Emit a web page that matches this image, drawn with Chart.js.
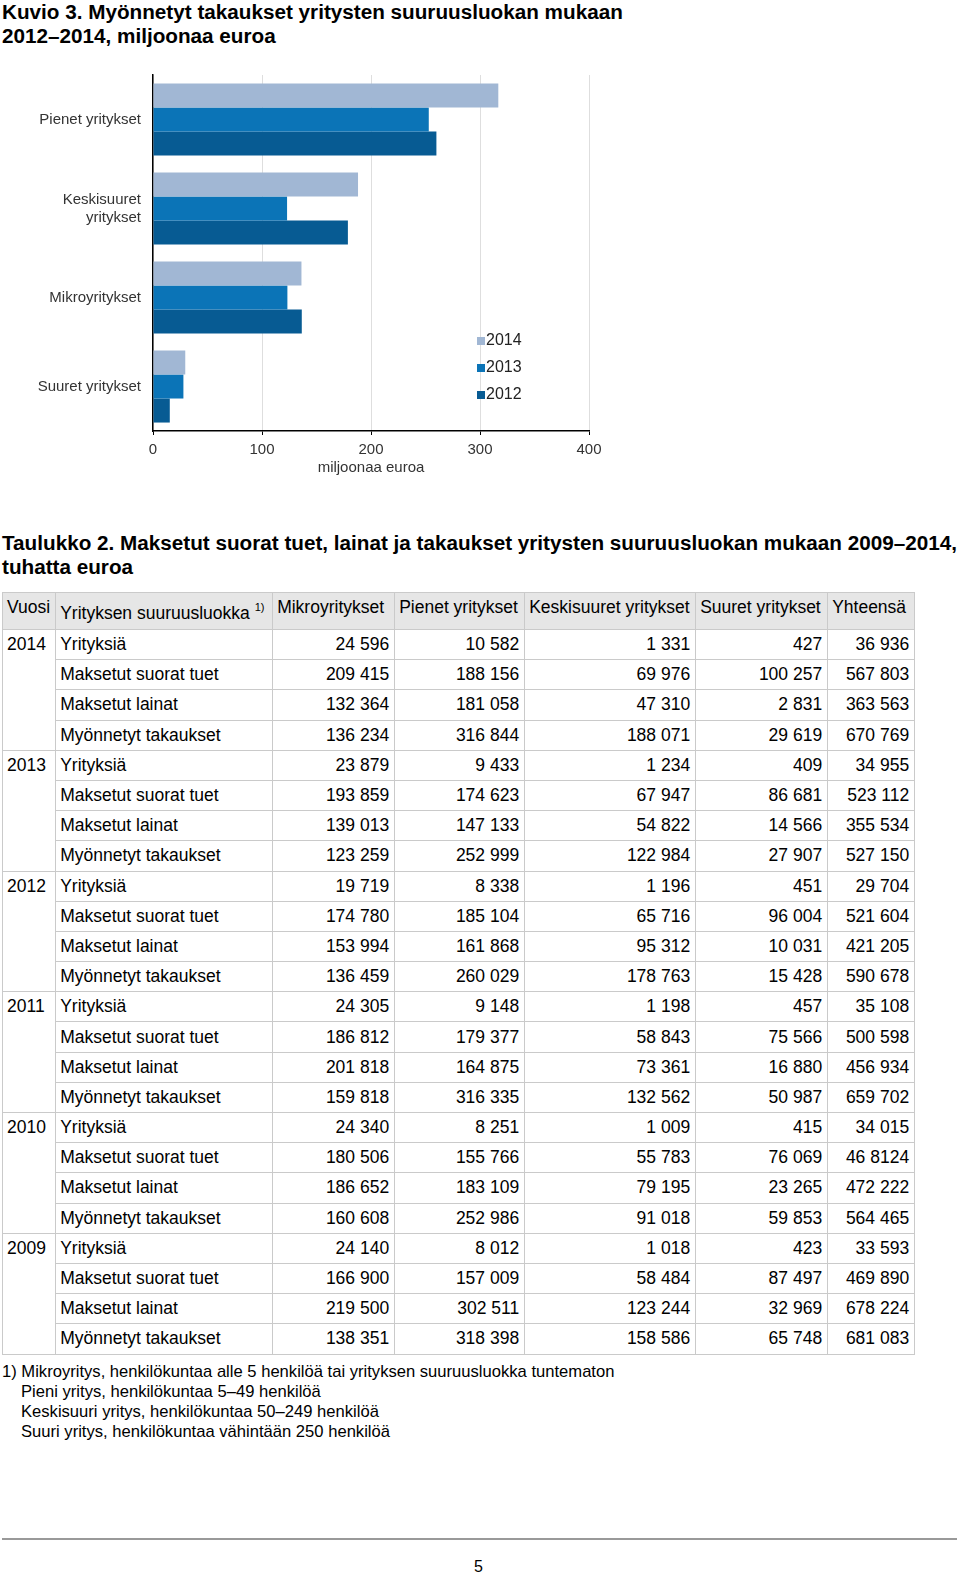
<!DOCTYPE html>
<html>
<head>
<meta charset="utf-8">
<script src="https://cdn.jsdelivr.net/npm/chart.js@4.4.0/dist/chart.umd.min.js"></script>
<style>
  html, body { margin: 0; padding: 0; background: #fff; }
  body { width: 960px; height: 1572px; position: relative; overflow: hidden;
         font-family: "Liberation Sans", Arial, sans-serif; color: #000; }
  .title { position: absolute; left: 2px; font-family: "Liberation Sans Narrow", "Arial Narrow", "Liberation Sans", sans-serif;
           font-weight: bold; font-size: 20.7px; line-height: 24px; white-space: nowrap; }
  #chartBox { position: absolute; left: 0; top: 0; width: 640px; height: 500px; }
  table { position: absolute; left: 2px; top: 592px; border-collapse: collapse; font-size: 17.5px; }
  td, th { border: 1px solid #cacaca; padding: 0 5px 0 4px; height: 29.2px; white-space: nowrap; }
  th { background: #e6e6e6; font-weight: normal; text-align: left; vertical-align: top; height: 32px;
       padding-top: 4px; line-height: 20px; }
  th span.low { position: relative; top: 6px; }
  td.num { text-align: right; }
  td.year { vertical-align: top; padding-top: 4px; }
  sup { font-size: 11px; line-height: 0; vertical-align: 8px; }
  .note { position: absolute; left: 2px; top: 1362px; font-size: 16.6px; line-height: 20px; }
  .note div.ind { padding-left: 19px; }
  .rule { position: absolute; left: 2px; top: 1538px; width: 955px; height: 2px; background: #999; }
  .page { position: absolute; left: 474px; top: 1558px; font-size: 16px; }
</style>
</head>
<body>
<div class="title" style="top:0">Kuvio 3. Myönnetyt takaukset yritysten suuruusluokan mukaan<br>2012–2014, miljoonaa euroa</div>
<div id="chartBox"><canvas id="myChart" width="640" height="500"></canvas></div>
<div class="title" style="top:531px">Taulukko 2. Maksetut suorat tuet, lainat ja takaukset yritysten suuruusluokan mukaan 2009–2014,<br>tuhatta euroa</div>
<table id="tbl"></table>
<div class="note">
  <div>1) Mikroyritys, henkilökuntaa alle 5 henkilöä tai yrityksen suuruusluokka tuntematon</div>
  <div class="ind">Pieni yritys, henkilökuntaa 5–49 henkilöä</div>
  <div class="ind">Keskisuuri yritys, henkilökuntaa 50–249 henkilöä</div>
  <div class="ind">Suuri yritys, henkilökuntaa vähintään 250 henkilöä</div>
</div>
<div class="rule"></div>
<div class="page">5</div>
<script>
// chart data, million euro
const categories = ['Pienet yritykset', ['Keskisuuret', 'yritykset'], 'Mikroyritykset', 'Suuret yritykset'];
const seriesNames = ['2014', '2013', '2012'];
const takaukset2014 = [316.8, 188.1, 136.2, 29.6];
const takaukset2013 = [253.0, 123.0, 123.3, 27.9];
const takaukset2012 = [260.0, 178.8, 136.5, 15.4];
const xTicks = [0, 100, 200, 300, 400];

// table data, thousand euro
const years = ['2014', '2013', '2012', '2011', '2010', '2009'];
const measures = ['Yrityksiä', 'Maksetut suorat tuet', 'Maksetut lainat', 'Myönnetyt takaukset'];
const headers = ['Vuosi', 'Yrityksen suuruusluokka', 'Mikroyritykset', 'Pienet yritykset', 'Keskisuuret yritykset', 'Suuret yritykset', 'Yhteensä'];
const rows2014 = [['24 596','10 582','1 331','427','36 936'], ['209 415','188 156','69 976','100 257','567 803'], ['132 364','181 058','47 310','2 831','363 563'], ['136 234','316 844','188 071','29 619','670 769']];
const rows2013 = [['23 879','9 433','1 234','409','34 955'], ['193 859','174 623','67 947','86 681','523 112'], ['139 013','147 133','54 822','14 566','355 534'], ['123 259','252 999','122 984','27 907','527 150']];
const rows2012 = [['19 719','8 338','1 196','451','29 704'], ['174 780','185 104','65 716','96 004','521 604'], ['153 994','161 868','95 312','10 031','421 205'], ['136 459','260 029','178 763','15 428','590 678']];
const rows2011 = [['24 305','9 148','1 198','457','35 108'], ['186 812','179 377','58 843','75 566','500 598'], ['201 818','164 875','73 361','16 880','456 934'], ['159 818','316 335','132 562','50 987','659 702']];
const rows2010 = [['24 340','8 251','1 009','415','34 015'], ['180 506','155 766','55 783','76 069','46 8124'], ['186 652','183 109','79 195','23 265','472 222'], ['160 608','252 986','91 018','59 853','564 465']];
const rows2009 = [['24 140','8 012','1 018','423','33 593'], ['166 900','157 009','58 484','87 497','469 890'], ['219 500','302 511','123 244','32 969','678 224'], ['138 351','318 398','158 586','65 748','681 083']];
const yearRows = [rows2014, rows2013, rows2012, rows2011, rows2010, rows2009];

const colWidths = [52, 217, 122, 130, 171, 132, 87];

// build table
const tbl = document.getElementById('tbl');
let html = '<tr>';
headers.forEach((h, i) => {
  const txt = i === 1 ? '<span class="low">' + h + ' <sup>1)</sup></span>' : h;
  html += '<th style="width:' + (colWidths[i] - 10) + 'px">' + txt + '</th>';
});
html += '</tr>';
years.forEach((y, yi) => {
  measures.forEach((m, mi) => {
    html += '<tr>';
    if (mi === 0) html += '<td class="year" rowspan="4">' + y + '</td>';
    html += '<td>' + m + '</td>';
    yearRows[yi][mi].forEach(v => { html += '<td class="num">' + v + '</td>'; });
    html += '</tr>';
  });
});
tbl.innerHTML = html;

// legend drawn inside plot area
const innerLegend = {
  id: 'innerLegend',
  afterDraw(chart) {
    const ctx = chart.ctx;
    ctx.save();
    ctx.font = '16px "Liberation Sans", Arial, sans-serif';
    ctx.textBaseline = 'middle';
    chart.data.datasets.forEach((ds, i) => {
      const y = 341 + i * 27;
      ctx.fillStyle = ds.backgroundColor;
      ctx.fillRect(477, y - 4, 8, 8);
      ctx.fillStyle = '#222';
      ctx.fillText(ds.label, 486, y);
    });
    ctx.restore();
  }
};

const data = {
  labels: categories,
  datasets: [
    { label: seriesNames[0], data: takaukset2014, backgroundColor: '#a1b7d4' },
    { label: seriesNames[1], data: takaukset2013, backgroundColor: '#0b74b7' },
    { label: seriesNames[2], data: takaukset2012, backgroundColor: '#075b93' }
  ]
};

const config = {
  type: 'bar',
  data: data,
  options: {
    indexAxis: 'y',
    responsive: false,
    animation: false,
    categoryPercentage: 0.81,
    barPercentage: 1,
    layout: {
      padding: { left: 0, top: 75, right: 51, bottom: 19 }
    },
    scales: {
      x: {
        min: 0,
        max: 400,
        afterBuildTicks: (axis) => { axis.ticks = xTicks.map(v => ({ value: v })); },
        afterFit: (axis) => { axis.height = 50; },
        grid: { color: '#dedede', tickColor: '#000', tickLength: 4 },
        border: { color: '#000', width: 1.5 },
        ticks: { color: '#333', padding: 6, font: { size: 15, family: '"Liberation Sans", Arial, sans-serif' } },
        title: { display: true, text: 'miljoonaa euroa', color: '#333', padding: { top: 4 },
                 font: { size: 15, family: '"Liberation Sans", Arial, sans-serif' } }
      },
      y: {
        afterFit: (axis) => { axis.width = 153; },
        grid: { display: false, drawTicks: false },
        border: { color: '#000', width: 1.5 },
        ticks: { color: '#333', padding: 12, font: { size: 15, family: '"Liberation Sans", Arial, sans-serif' } }
      }
    },
    plugins: {
      legend: { display: false },
      tooltip: { enabled: false }
    }
  },
  plugins: [innerLegend]
};

var myChart = new Chart(document.getElementById('myChart'), config);
</script>
</body>
</html>
